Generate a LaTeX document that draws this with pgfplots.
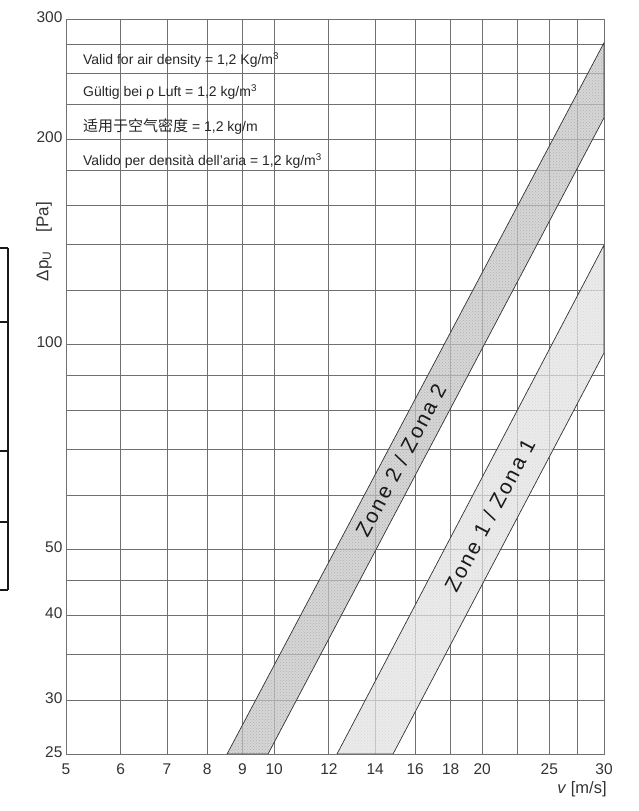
\documentclass[border=0pt]{standalone}
\usepackage{pgfplots}
\pgfplotsset{compat=1.18}
\usetikzlibrary{patterns}
\usepackage{fontspec}
\setmainfont{Liberation Sans}
\newfontfamily\cjk{Noto Sans CJK SC}
\newfontfamily\zonefont[LetterSpace=10]{Liberation Sans}
\definecolor{gridc}{HTML}{707070}
\definecolor{zonetwo}{HTML}{C4C4C4}
\definecolor{zoneone}{HTML}{E2E2E2}
\begin{document}
\begin{tikzpicture}
\useasboundingbox (-66pt,-57pt) rectangle (573pt,754pt);
\begin{axis}[
  scale only axis, width=538pt, height=735pt,
  xmode=log, ymode=log, xmin=5, xmax=30, ymin=25, ymax=300,
  xtick={5,6,7,8,9,10,12,14,16,18,20,22.5,25,27.5,30},
  xticklabels={5,6,7,8,9,10,12,14,16,18,20,,25,,30},
  ytick={25,30,35,40,45,50,60,70,80,90,100,120,140,160,180,200,225,250,275,300},
  yticklabels={25,30,,40,,50,,,,,100,,,,,200,,,,300},
  grid=major, major grid style={draw=gridc, line width=0.8pt},
  axis line style={draw=gridc, line width=0.9pt},
  tick style={draw=none},
  tick label style={font=\fontsize{15.5}{15.5}\selectfont, text=black!80},
  xticklabel style={yshift=-6pt},
  yticklabel style={yshift=2pt},
  xlabel={\textit{v} [m/s]},
  xlabel style={at={(axis description cs:0.959,-0.0476)}, anchor=center, font=\fontsize{16.5}{16.5}\selectfont, text=black!80},
  ylabel={Δp\textsubscript{U}\hspace{1.1em}[Pa]},
  ylabel style={at={(axis description cs:-0.0409,0.697)}, anchor=center, font=\fontsize{17}{17}\selectfont, text=black!80},
]
\addplot[draw=none, fill=zonetwo, fill opacity=0.7] coordinates {(8.55,25) (30,276.8) (30,214.8) (9.80,25)} -- cycle;
\addplot[draw=none, pattern=crosshatch dots, pattern color=black!30] coordinates {(8.55,25) (30,276.8) (30,214.8) (9.80,25)} -- cycle;
\addplot[draw=black!80, line width=0.7pt] coordinates {(8.55,25) (30,276.8) (30,214.8) (9.80,25)} -- cycle;
\addplot[draw=none, fill=zoneone, fill opacity=0.7] coordinates {(12.33,25) (30,139.7) (30,97.0) (14.86,25)} -- cycle;
\addplot[draw=none, pattern=crosshatch dots, pattern color=black!15] coordinates {(12.33,25) (30,139.7) (30,97.0) (14.86,25)} -- cycle;
\addplot[draw=black!80, line width=0.7pt] coordinates {(12.33,25) (30,139.7) (30,97.0) (14.86,25)} -- cycle;
\node[rotate=62, font=\zonefont\fontsize{21}{21}\selectfont, text=black!90] at (axis cs:15.25,67.5) {Zone 2 / Zona 2};
\node[rotate=62, font=\zonefont\fontsize{21}{21}\selectfont, text=black!90] at (axis cs:20.5,56) {Zone 1 / Zona 1};
\node[anchor=west, inner sep=0pt, font=\fontsize{14}{14}\selectfont, text=black!85] at (axis cs:5.29,261) {Valid for air density = 1,2 Kg/m\textsuperscript{3}};
\node[anchor=west, inner sep=0pt, font=\fontsize{14}{14}\selectfont, text=black!85] at (axis cs:5.29,234.5) {Gültig bei ρ Luft = 1,2 kg/m\textsuperscript{3}};
\node[anchor=west, inner sep=0pt, font=\fontsize{14}{14}\selectfont, text=black!85] at (axis cs:5.29,208.3) {{\cjk\fontsize{15}{15}\selectfont 适用于空气密度} = 1,2 kg/m};
\node[anchor=west, inner sep=0pt, font=\fontsize{14}{14}\selectfont, text=black!85] at (axis cs:5.29,185.6) {Valido per densità dell'aria = 1,2 kg/m\textsuperscript{3}};
\end{axis}
\draw[line width=2pt, black!90] (-58pt,164pt) -- (-58pt,506pt);
\foreach \yy in {506,432,303,232,164} \draw[line width=1.6pt, black!90] (-66pt,\yy pt) -- (-58pt,\yy pt);
\end{tikzpicture}
\end{document}
